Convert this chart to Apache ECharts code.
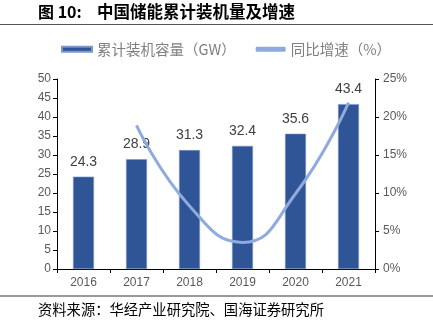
<!DOCTYPE html>
<html><head><meta charset="utf-8">
<script src="https://cdn.jsdelivr.net/npm/echarts@6/dist/echarts.min.js"></script>
<style>html,body{margin:0;padding:0;background:#fff}#c{width:433px;height:322px}</style>
</head><body><div id="c"></div>
<script>
var categories = ['2016','2017','2018','2019','2020','2021'];
var capacity = [24.3, 28.9, 31.3, 32.4, 35.6, 43.4];
var growth = [null, 18.9, 8.3, 3.5, 9.9, 21.9];
var leftTicks = [0,5,10,15,20,25,30,35,40,45,50];
var rightTicks = ['0%','5%','10%','15%','20%','25%'];
var FONT = '"Noto Sans CJK SC", "Liberation Sans", sans-serif';
var NUM = '"Liberation Sans", Arial, sans-serif';
var chart = echarts.init(document.getElementById('c'));
chart.setOption({
  animation: false,
  textStyle: {fontFamily: FONT},
  grid: {left: 57, right: 58, top: 79, bottom: 53},
  legend: {
    top: 37, left: 56, itemWidth: 30, itemHeight: 5, itemGap: 20,
    textStyle: {color: '#7f7f7f', fontSize: 14.5, fontFamily: FONT},
    data: [{name: '累计装机容量（GW）', icon: 'rect'}, {name: '同比增速（%）', icon: 'roundRect'}]
  },
  xAxis: {
    type: 'category', data: categories,
    axisLine: {lineStyle: {color: '#000', width: 1}},
    axisTick: {show: true, alignWithLabel: false, length: 4, lineStyle: {color: '#000'}},
    axisLabel: {color: '#595959', fontSize: 12, margin: 8, fontFamily: NUM}
  },
  yAxis: [{
    type: 'value', min: 0, max: 50, interval: 5, position: 'left',
    axisLine: {show: true, lineStyle: {color: '#000'}},
    axisTick: {show: true, length: 4, lineStyle: {color: '#000'}},
    splitLine: {show: false},
    axisLabel: {color: '#595959', fontSize: 12, margin: 6, fontFamily: NUM,
      formatter: function(v){ return leftTicks.indexOf(v) >= 0 ? String(v) : ''; }}
  }, {
    type: 'value', min: 0, max: 25, interval: 5, position: 'right',
    axisLine: {show: true, lineStyle: {color: '#000'}},
    axisTick: {show: true, length: 4, lineStyle: {color: '#000'}},
    splitLine: {show: false},
    axisLabel: {color: '#595959', fontSize: 12, margin: 8, fontFamily: NUM,
      formatter: function(v){ return rightTicks[Math.round(v/5)]; }}
  }],
  series: [{
    name: '累计装机容量（GW）', type: 'bar', data: capacity, barWidth: 21,
    itemStyle: {color: '#2F5597', borderColor: '#7C97C9', borderWidth: 0.6},
    label: {show: true, position: 'top', distance: 8, color: '#404040', fontSize: 14, fontFamily: NUM,
      formatter: function(p){ return p.value.toFixed(1); }}
  }, {
    name: '同比增速（%）', type: 'line', yAxisIndex: 1, data: growth, smooth: 0.5,
    symbol: 'none', connectNulls: false,
    lineStyle: {color: '#8FAADC', width: 3},
    itemStyle: {color: '#8FAADC'}
  }],
  graphic: [
    {type: 'text', left: 38, top: 4, style: {text: '图 10:', font: 'bold 16px ' + FONT, fill: '#000'}},
    {type: 'text', left: 97, top: 3, style: {text: '中国储能累计装机量及增速', font: 'bold 16.5px ' + FONT, fill: '#000'}},
    {type: 'line', shape: {x1: 0, y1: 24.5, x2: 433, y2: 24.5}, style: {stroke: '#555', lineWidth: 1}},
    {type: 'line', shape: {x1: 0, y1: 296, x2: 433, y2: 296}, style: {stroke: '#999', lineWidth: 2}},
    {type: 'text', left: 38, top: 302, style: {text: '资料来源：华经产业研究院、国海证券研究所', font: '14.3px ' + FONT, fill: '#000'}}
  ]
});
</script></body></html>
